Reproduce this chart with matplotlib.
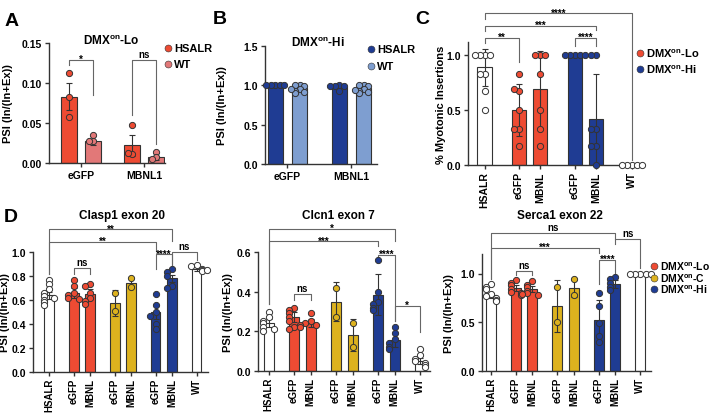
import matplotlib.pyplot as plt
import numpy as np
from matplotlib.lines import Line2D

plt.rcParams['font.family'] = ['Liberation Sans', 'DejaVu Sans']
plt.rcParams['font.weight'] = 'bold'
plt.rcParams['axes.labelweight'] = 'bold'
plt.rcParams['mathtext.fontset'] = 'custom'
plt.rcParams['mathtext.bf'] = 'Liberation Sans:bold'
plt.rcParams['mathtext.rm'] = 'Liberation Sans:bold'

W, H = 709, 414
EDGE = '#333333'
RED = '#EE4B33'
SALMON = '#E27878'
NAVY = '#1F3C93'
LIGHTBLUE = '#7E9ED0'
MUSTARD = '#DDB21E'
LO = "DMX$^{\\mathbf{on}}$-Lo"
HI = "DMX$^{\\mathbf{on}}$-Hi"
CC = "DMX$^{\\mathbf{on}}$-C"

# --- A: DMXon-Lo ---
a_groups = ["eGFP", "MBNL1"]
a_hsalr_mean = [0.083, 0.022]
a_hsalr_err = [0.017, 0.013]
a_hsalr_pts = [[0.113, 0.083, 0.057], [0.048, 0.011, 0.012]]
a_wt_mean = [0.028, 0.008]
a_wt_err = [0.006, 0.004]
a_wt_pts = [[0.035, 0.027, 0.028], [0.014, 0.007, 0.005]]

# --- B: DMXon-Hi ---
b_groups = ["eGFP", "MBNL1"]
b_hsalr_mean = [1.0, 0.98]
b_hsalr_err = [0.0, 0.01]
b_hsalr_pts = [[1.0, 1.0, 1.0, 1.0, 1.0], [1.0, 0.99, 0.99, 0.93, 0.99]]
b_wt_mean = [0.96, 0.96]
b_wt_err = [0.01, 0.01]
b_wt_pts = [[1.0, 1.0, 0.99, 0.95, 0.93, 0.92, 0.90, 0.95],
            [1.0, 1.0, 0.99, 0.95, 0.93, 0.92, 0.90, 0.94]]

# --- C: myotonic insertions ---
c_labels = ["HSALR", "eGFP", "MBNL", "eGFP", "MBNL", "WT"]
c_means = [0.89, 0.50, 0.69, 1.0, 0.42, 0.0]
c_errs = [0.17, 0.24, 0.35, 0.0, 0.41, 0.0]
c_pts = [[1.0, 1.0, 1.0, 1.0, 0.83, 0.83, 0.67, 0.5],
         [0.83, 0.67, 0.69, 0.5, 0.33, 0.33, 0.17],
         [1.0, 1.0, 1.0, 0.83, 0.5, 0.33, 0.17],
         [1.0, 1.0, 1.0, 1.0, 1.0],
         [1.0, 1.0, 0.33, 0.33, 0.17, 0.17, 0.0],
         [0.0, 0.0, 0.0, 0.0, 0.0]]

# --- D: splicing events ---
d_labels = ["HSALR", "eGFP", "MBNL", "eGFP", "MBNL", "eGFP", "MBNL", "WT"]
clasp_means = [0.64, 0.66, 0.65, 0.575, 0.745, 0.50, 0.78, 0.86]
clasp_errs = [0.03, 0.04, 0.04, 0.11, 0.035, 0.06, 0.03, 0.02]
clasp_pts = [[0.77, 0.73, 0.69, 0.66, 0.63, 0.60, 0.58, 0.56, 0.62],
             [0.77, 0.72, 0.66, 0.64, 0.62, 0.61],
             [0.73, 0.72, 0.66, 0.62, 0.59, 0.57],
             [0.66, 0.51],
             [0.78, 0.71],
             [0.65, 0.56, 0.50, 0.47, 0.40, 0.36],
             [0.86, 0.83, 0.80, 0.72, 0.70],
             [0.89, 0.88, 0.86, 0.85, 0.84, 0.85]]
clcn_means = [0.24, 0.27, 0.24, 0.35, 0.18, 0.385, 0.155, 0.05]
clcn_errs = [0.02, 0.025, 0.02, 0.10, 0.08, 0.105, 0.035, 0.015]
clcn_pts = [[0.30, 0.27, 0.25, 0.24, 0.22, 0.20, 0.21],
            [0.32, 0.31, 0.29, 0.27, 0.25, 0.22, 0.21],
            [0.29, 0.25, 0.24, 0.23, 0.23, 0.22],
            [0.42, 0.27],
            [0.24, 0.12],
            [0.56, 0.40, 0.35, 0.34, 0.32, 0.31],
            [0.22, 0.19, 0.16, 0.14, 0.12, 0.11],
            [0.11, 0.08, 0.06, 0.05, 0.04, 0.03, 0.02]]
serca_means = [0.775, 0.85, 0.84, 0.665, 0.85, 0.52, 0.89, 1.0]
serca_errs = [0.03, 0.03, 0.03, 0.27, 0.095, 0.21, 0.04, 0.0]
serca_pts = [[0.89, 0.86, 0.84, 0.79, 0.77, 0.75, 0.73, 0.72],
             [0.93, 0.90, 0.88, 0.84, 0.81, 0.80, 0.78],
             [0.92, 0.88, 0.86, 0.82, 0.80, 0.78, 0.79],
             [0.86, 0.50],
             [0.94, 0.78],
             [0.80, 0.67, 0.49, 0.36, 0.30],
             [0.96, 0.94, 0.90, 0.86, 0.83],
             [1.0, 1.0, 1.0, 1.0, 1.0]]
d_colors = ['white', RED, RED, MUSTARD, MUSTARD, NAVY, NAVY, 'white']
d_pos = [0, 1.5, 2.5, 4, 5, 6.5, 7.5, 9]
c_colors = ['white', RED, RED, NAVY, NAVY, 'white']
c_pos = [0, 1.64, 2.64, 4.31, 5.31, 7.02]


def px_axes(fig, left, top, right, bottom):
    return fig.add_axes([left / W, 1 - bottom / H, (right - left) / W, (bottom - top) / H])


def style(ax):
    for s in ['top', 'right']:
        ax.spines[s].set_visible(False)
    for s in ['left', 'bottom']:
        ax.spines[s].set_color(EDGE)
        ax.spines[s].set_linewidth(1)
    ax.tick_params(width=1, length=3, labelsize=7.5, color=EDGE, pad=2)


def swarm(vals, spread, tol):
    pattern = [0, -1, 1, -2, 2, -3, 3]
    offs, placed = [], []
    for v in vals:
        n = sum(1 for p in placed if abs(p - v) < tol)
        offs.append(pattern[n % len(pattern)] * spread)
        placed.append(v)
    return np.array(offs)


def bar(ax, x, mean, err, pts, color, width, spread, tol):
    ax.bar(x, mean, width, color=color, edgecolor=EDGE, linewidth=0.8, zorder=2)
    if err > 0:
        ax.errorbar(x, mean, yerr=err, fmt='none', ecolor=EDGE, elinewidth=0.8,
                    capsize=2.5, capthick=0.8, zorder=3)
    ax.scatter(x + swarm(pts, spread, tol), pts, s=20, color=color, edgecolor=EDGE,
               linewidth=0.7, zorder=4, clip_on=False)


def bracket(ax, x1, x2, y, y1, y2, label):
    ax.plot([x1, x1, x2, x2], [y1, y, y, y2], color='#666666', lw=0.8, clip_on=False, zorder=1)
    dy = -3 if '*' in label else 0.5
    ax.annotate(label, ((x1 + x2) / 2, y), xytext=(0, dy), textcoords='offset points',
                ha='center', va='bottom', fontsize=7, annotation_clip=False)


def legend_px(fig, x, ys, labels, colors, fs=8):
    for y, lab, c in zip(ys, labels, colors):
        fig.add_artist(Line2D([x / W], [1 - y / H], marker='o', ms=5, mfc=c, mec=EDGE, mew=0.4,
                              linestyle='', transform=fig.transFigure))
        fig.text((x + 6) / W, 1 - y / H, lab, va='center', fontsize=fs)


def label_coords(ax, x_px):
    bb = ax.get_position()
    ax.yaxis.set_label_coords((x_px / W - bb.x0) / bb.width, 0.5)


fig = plt.figure(figsize=(7.09, 4.14), dpi=100)

# Panel A
ax = px_axes(fig, 49, 44, 165, 164)
style(ax)
for i in range(2):
    bar(ax, i - 0.19, a_hsalr_mean[i], a_hsalr_err[i], a_hsalr_pts[i], RED, 0.25, 0.07, 0.006)
    bar(ax, i + 0.19, a_wt_mean[i], a_wt_err[i], a_wt_pts[i], SALMON, 0.25, 0.07, 0.006)
ax.set_xlim(-0.51, 1.33)
ax.set_ylim(0, 0.15)
ax.set_yticks([0, 0.05, 0.10, 0.15])
ax.yaxis.set_major_formatter('{x:.2f}')
ax.set_xticks([0, 1])
ax.set_xticklabels(a_groups)
ax.set_ylabel("PSI (In/(In+Ex))", fontsize=8)
label_coords(ax, 13)
ax.text(0.54, 1.02, LO, transform=ax.transAxes, ha='center', va='center', fontsize=8.5)
bracket(ax, -0.19, 0.19, 0.129, 0.122, 0.085, "*")
bracket(ax, 0.81, 1.19, 0.129, 0.06, 0.024, "ns")
legend_px(fig, 168, [49, 65], ["HSALR", "WT"], [RED, SALMON])
fig.text(12 / W, 1 - 21 / H, "A", fontsize=14, va='center', ha='center')

# Panel B
ax = px_axes(fig, 265, 47, 377, 165)
style(ax)
for i in range(2):
    bar(ax, i - 0.19, b_hsalr_mean[i], b_hsalr_err[i], b_hsalr_pts[i], NAVY, 0.23, 0.07, 0.03)
    bar(ax, i + 0.19, b_wt_mean[i], b_wt_err[i], b_wt_pts[i], LIGHTBLUE, 0.23, 0.07, 0.03)
ax.set_xlim(-0.35, 1.40)
ax.set_ylim(0, 1.5)
ax.set_yticks([0, 0.5, 1.0, 1.5])
ax.yaxis.set_major_formatter('{x:.1f}')
ax.set_xticks([0, 1])
ax.set_xticklabels(b_groups)
ax.set_ylabel("PSI (In/(In+Ex))", fontsize=8)
label_coords(ax, 227)
ax.text(0.47, 1.03, HI, transform=ax.transAxes, ha='center', va='center', fontsize=8.5)
legend_px(fig, 371, [50, 67], ["HSALR", "WT"], [NAVY, LIGHTBLUE])
fig.text(220 / W, 1 - 20 / H, "B", fontsize=14, va='center', ha='center')

# Panel C
ax = px_axes(fig, 468, 43, 644, 166)
style(ax)
for x, m, e, p, c in zip(c_pos, c_means, c_errs, c_pts, c_colors):
    bar(ax, x, m, e, p, c, 0.7, 0.24, 0.04)
ax.set_xlim(-0.79, 7.6)
ax.set_ylim(0, 1.12)
ax.set_yticks([0, 0.5, 1.0])
ax.yaxis.set_major_formatter('{x:.1f}')
ax.set_xticks(c_pos)
ax.set_xticklabels(c_labels, rotation=90)
ax.tick_params(axis='x', labelsize=7.5, pad=1.5)
ax.set_ylabel("% Myotonic Insertions", fontsize=8)
label_coords(ax, 446)
bracket(ax, c_pos[0], c_pos[5], 1.38, 1.33, 0.05, "****")
bracket(ax, c_pos[0], c_pos[4], 1.27, 1.22, 1.23, "***")
bracket(ax, c_pos[0], c_pos[1], 1.16, 1.11, 0.94, "**")
bracket(ax, c_pos[3], c_pos[4], 1.16, 1.08, 1.08, "****")
legend_px(fig, 640, [54, 70], [LO, HI], [RED, NAVY])
fig.text(422 / W, 1 - 20 / H, "C", fontsize=14, va='center', ha='center')

# Panel D
d_panels = [
    ("Clasp1 exon 20", clasp_means, clasp_errs, clasp_pts, (33, 253, 208, 373), (-0.98, 9.7), 1.0,
     [0, 0.2, 0.4, 0.6, 0.8, 1.0], 10, 0.51, 1.31,
     [(0, 6, 1.19, 0.82, 1.09, "**"), (0, 5, 1.086, 0.82, 1.01, "**"),
      (1, 2, 0.87, 0.82, 0.82, "ns"), (5, 6, 0.98, 0.86, 0.89, "****"),
      (6, 7, 1.0, 0.89, 0.93, "ns")]),
    ("Clcn1 exon 7", clcn_means, clcn_errs, clcn_pts, (258, 253, 430, 372), (-0.64, 9.6), 0.6,
     [0, 0.2, 0.4, 0.6], 233, 0.465, 1.31,
     [(0, 6, 0.716, 0.338, 0.657, "*"), (0, 5, 0.654, 0.338, 0.632, "***"),
      (1, 2, 0.39, 0.36, 0.36, "ns"), (5, 6, 0.586, 0.57, 0.254, "****"),
      (6, 7, 0.33, 0.254, 0.195, "*")]),
    ("Serca1 exon 22", serca_means, serca_errs, serca_pts, (482, 255, 651, 372), (-0.54, 9.64), 1.2,
     [0, 0.5, 1.0], 454, 0.46, 1.33,
     [(0, 6, 1.42, 0.94, 1.35, "ns"), (0, 5, 1.26, 0.94, 1.21, "***"),
      (1, 2, 1.03, 0.98, 0.98, "ns"), (5, 6, 1.14, 0.89, 1.0, "****"),
      (6, 7, 1.355, 1.3, 1.06, "ns")]),
]
for title, means, errs, pts, box, xlim, ytop, yticks, ylab_x, tx, ty, brs in d_panels:
    ax = px_axes(fig, *box)
    style(ax)
    for x, m, e, p, c in zip(d_pos, means, errs, pts, d_colors):
        bar(ax, x, m, e, p, c, 0.6, 0.32, ytop * 0.035)
    ax.set_xlim(*xlim)
    ax.set_ylim(0, ytop)
    ax.set_yticks(yticks)
    ax.yaxis.set_major_formatter('{x:.1f}')
    ax.set_xticks(d_pos)
    ax.set_xticklabels(d_labels, rotation=90)
    ax.tick_params(axis='x', labelsize=7, pad=1)
    ax.set_ylabel("PSI (In/(In+Ex))", fontsize=8)
    label_coords(ax, ylab_x)
    ax.text(tx, ty, title, transform=ax.transAxes, ha='center', va='center', fontsize=8.5)
    for i, j, y, y1, y2, lab in brs:
        bracket(ax, d_pos[i], d_pos[j], y, y1, y2, lab)
legend_px(fig, 654, [267, 279, 290], [LO, CC, HI], [RED, MUSTARD, NAVY], fs=7.5)
fig.text(11 / W, 1 - 218 / H, "D", fontsize=14, va='center', ha='center')

fig.savefig("out.png", dpi=100)
